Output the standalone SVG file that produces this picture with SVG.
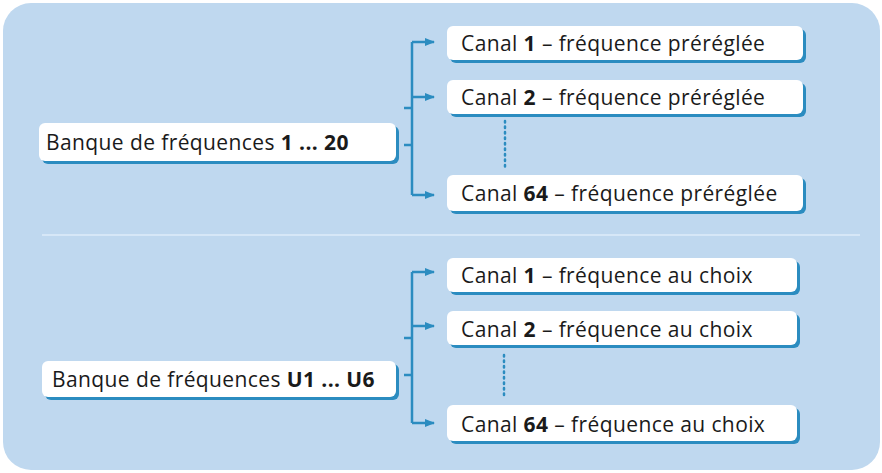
<svg xmlns="http://www.w3.org/2000/svg" width="882" height="473" viewBox="0 0 882 473">
<defs>
<style>
.bx{fill:#fff}
.sh{fill:#2b8cc0}
text{font-family:"Open Sans","Noto Sans",sans-serif;font-size:21px;letter-spacing:0.4px;fill:#1a1a1a}
.b{font-weight:bold}
.ln{stroke:#2b8cc0;stroke-width:2.5;fill:none}
.dt{stroke:#2b8cc0;stroke-width:2.5;stroke-dasharray:1.5 4;stroke-linecap:round}
</style>
<marker id="ar" markerWidth="10" markerHeight="10" refX="9" refY="5" orient="auto" markerUnits="userSpaceOnUse"><path d="M0,1 L10,5 L0,9 Z" fill="#2b8cc0"/></marker>
</defs>
<rect x="3" y="3" width="877" height="467" rx="28" fill="#bfd8ef"/>
<line x1="42" y1="235" x2="860" y2="235" stroke="#d6e7f7" stroke-width="2"/>
<g id="connectors">
<path class="ln" d="M412,42 V195"/><path class="ln" d="M404,108 H412 M404,145 H412"/>
<path class="ln" d="M412,42 H434" marker-end="url(#ar)"/><path class="ln" d="M412,97 H434" marker-end="url(#ar)"/><path class="ln" d="M412,195 H434" marker-end="url(#ar)"/>
<line class="dt" x1="505" y1="121" x2="505" y2="167"/>
<path class="ln" d="M412,272 V423"/><path class="ln" d="M404,338 H412 M404,375 H412"/>
<path class="ln" d="M412,272 H434" marker-end="url(#ar)"/><path class="ln" d="M412,326 H434" marker-end="url(#ar)"/><path class="ln" d="M412,423 H434" marker-end="url(#ar)"/>
<line class="dt" x1="504" y1="355" x2="504" y2="398"/>
</g>
<g id="bank1"><rect class="sh" x="42" y="126" width="357" height="38" rx="6"/><rect class="bx" x="39" y="123" width="357" height="38" rx="6"/><text x="46" y="150">Banque de fréquences <tspan class="b">1 ... 20</tspan></text></g>
<g id="c1a"><rect class="sh" x="450" y="29" width="356" height="34" rx="6"/><rect class="bx" x="447" y="26" width="356" height="34" rx="6"/><text x="461" y="51">Canal <tspan class="b">1</tspan> – fréquence préréglée</text></g>
<g id="c2a"><rect class="sh" x="450" y="83" width="356" height="34" rx="6"/><rect class="bx" x="447" y="80" width="356" height="34" rx="6"/><text x="461" y="105">Canal <tspan class="b">2</tspan> – fréquence préréglée</text></g>
<g id="c64a"><rect class="sh" x="450" y="178" width="356" height="36" rx="6"/><rect class="bx" x="447" y="175" width="356" height="36" rx="6"/><text x="461" y="201">Canal <tspan class="b">64</tspan> – fréquence préréglée</text></g>
<g id="bank2"><rect class="sh" x="45" y="364" width="354" height="36" rx="6"/><rect class="bx" x="42" y="361" width="354" height="36" rx="6"/><text x="52" y="387">Banque de fréquences <tspan class="b">U1 ... U6</tspan></text></g>
<g id="c1b"><rect class="sh" x="450" y="261" width="350" height="34" rx="6"/><rect class="bx" x="447" y="258" width="350" height="34" rx="6"/><text x="461" y="283">Canal <tspan class="b">1</tspan> – fréquence au choix</text></g>
<g id="c2b"><rect class="sh" x="450" y="314" width="350" height="34" rx="6"/><rect class="bx" x="447" y="311" width="350" height="34" rx="6"/><text x="461" y="337">Canal <tspan class="b">2</tspan> – fréquence au choix</text></g>
<g id="c64b"><rect class="sh" x="450" y="408" width="350" height="36" rx="6"/><rect class="bx" x="447" y="405" width="350" height="36" rx="6"/><text x="461" y="432">Canal <tspan class="b">64</tspan> – fréquence au choix</text></g>
</svg>
